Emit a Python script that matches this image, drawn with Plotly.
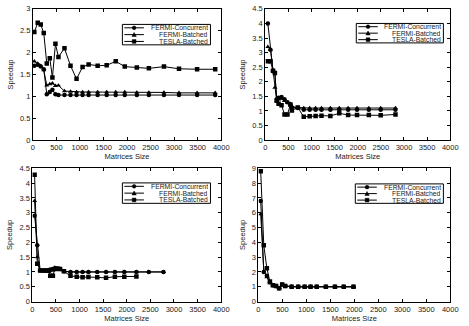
import plotly.graph_objects as go

NAMES = ["FERMI-Concurrent", "FERMI-Batched", "TESLA-Batched"]
SYMBOLS = ["circle", "triangle-up", "square"]

# Panel 1 (top-left)
x1 = [32, 104, 168, 232, 296, 360, 416, 480, 544, 672, 800, 928, 1056, 1184, 1376, 1568, 1760, 1952, 2208, 2464, 2784, 3104, 3488, 3872]
fc1 = [1.70, 1.72, 1.68, 1.62, 1.05, 1.10, 1.15, 1.05, 1.03, 1.03, 1.03, 1.03, 1.03, 1.03, 1.03, 1.03, 1.03, 1.03, 1.03, 1.03, 1.03, 1.03, 1.03, 1.03]
fb1 = [1.80, 1.75, 1.70, 1.60, 1.25, 1.28, 1.30, 1.24, 1.25, 1.12, 1.11, 1.10, 1.10, 1.10, 1.10, 1.10, 1.10, 1.10, 1.09, 1.09, 1.09, 1.08, 1.08, 1.08]
tb1 = [2.47, 2.68, 2.64, 2.45, 1.75, 1.87, 1.43, 2.20, 1.90, 2.10, 1.70, 1.40, 1.67, 1.73, 1.70, 1.71, 1.80, 1.68, 1.66, 1.64, 1.68, 1.63, 1.62, 1.62]

# Panel 2 (top-right)
x2 = [56, 112, 168, 208, 248, 288, 352, 416, 480, 544, 576, 704, 832, 960, 1088, 1216, 1408, 1600, 1792, 1984, 2240, 2496, 2816]
fc2 = [4.00, 3.10, 2.38, 2.30, 1.40, 1.45, 1.48, 1.40, 1.30, 1.20, 1.12, 1.10, 1.04, 1.04, 1.04, 1.04, 1.04, 1.04, 1.04, 1.04, 1.04, 1.04, 1.04]
fb2 = [3.20, 3.10, 2.38, 1.80, 1.35, 1.40, 1.42, 1.35, 1.28, 1.25, 1.15, 1.12, 1.10, 1.10, 1.10, 1.10, 1.10, 1.10, 1.10, 1.10, 1.10, 1.10, 1.10]
tb2 = [2.70, 2.70, 2.38, 2.30, 1.35, 1.25, 1.20, 0.88, 0.88, 1.22, 1.02, 1.12, 0.80, 0.82, 0.83, 0.84, 0.83, 0.92, 0.86, 0.86, 0.86, 0.85, 0.88]

# Panel 3 (bottom-left)
x3 = [48, 104, 166, 235, 304, 350, 380, 435, 477, 532, 587, 670, 808, 940, 1064, 1188, 1375, 1561, 1748, 1948, 2204, 2466, 2777]
fc3 = [2.90, 1.90, 1.05, 1.05, 1.05, 1.05, 1.08, 1.10, 1.12, 1.10, 1.10, 1.02, 1.00, 1.00, 1.00, 1.00, 1.00, 1.00, 1.00, 1.00, 1.00, 1.00, 1.00]
fb3 = [3.40, 1.50, 1.05, 1.03, 1.02, 1.02, 1.05, 1.05, 1.15, 1.12, 1.08, 1.02, 1.00, 1.00, 1.00, 1.00, 1.00, 1.00, 1.00, 1.00, 1.00, 1.00, 1.00]
tb3 = [4.28, 1.28, 1.05, 1.05, 1.05, 1.05, 0.87, 0.87, 1.10, 1.12, 1.10, 1.02, 0.87, 0.84, 0.82, 0.83, 0.82, 0.80, 0.84, 0.84, 0.85]

# Panel 4 (bottom-right)
x4 = [48, 112, 176, 240, 304, 368, 432, 496, 560, 693, 829, 964, 1087, 1216, 1406, 1596, 1779, 1983]
fc4 = [6.80, 2.00, 1.75, 1.30, 1.10, 1.05, 0.90, 1.15, 1.05, 1.00, 1.00, 1.00, 1.00, 1.00, 1.00, 1.00, 1.00, 1.00]
fb4 = [5.90, 2.05, 1.65, 1.25, 1.08, 1.03, 0.92, 1.12, 1.04, 1.00, 1.00, 1.00, 1.00, 1.00, 1.00, 1.00, 1.00, 1.00]
tb4 = [8.80, 3.80, 2.25, 1.35, 1.10, 1.05, 0.90, 1.15, 1.05, 1.00, 1.00, 1.00, 1.00, 1.00, 1.00, 1.00, 1.00, 1.00]

panels = [
    (x1, [fc1, fb1, tb1], 3.0, 0.5),
    (x2, [fc2, fb2, tb2], 4.5, 0.5),
    (x3, [fc3, fb3, tb3], 4.5, 0.5),
    (x4, [fc4, fb4, tb4], 9.0, 1.0),
]

W, H = 469, 326
# plot areas in pixels: (left, right, top, bottom)
areas = [(31.5, 224, 5, 140), (269, 458, 5, 140), (31, 224, 169, 306), (262, 458, 169, 306)]
# legend boxes in pixels: (left, right, top, bottom)
legend_boxes = [(123, 213, 21, 42), (362, 451, 20, 40), (123, 213, 184, 205), (361, 451, 185, 205)]

FONT = "Liberation Sans, Arial, Helvetica, sans-serif"
fig = go.Figure()
layout = dict(
    width=W, height=H, margin=dict(l=0, r=0, t=0, b=0),
    paper_bgcolor="white", plot_bgcolor="white",
    font=dict(family=FONT, size=8, color="black"),
    showlegend=False,
)

shapes = []
annotations = []


def px(xp):
    return xp / W


def py(yp):
    return 1 - yp / H


def marker_shape(sym, cx, cy, r=1.9):
    style = dict(xref="paper", yref="paper", fillcolor="black",
                 line=dict(color="black", width=0.5), layer="above")
    if sym == "circle":
        return dict(type="circle", x0=px(cx - r), x1=px(cx + r), y0=py(cy + r), y1=py(cy - r), **style)
    if sym == "square":
        return dict(type="rect", x0=px(cx - r), x1=px(cx + r), y0=py(cy + r), y1=py(cy - r), **style)
    path = f"M {px(cx - r - 0.3)} {py(cy + r)} L {px(cx + r + 0.3)} {py(cy + r)} L {px(cx)} {py(cy - r - 0.3)} Z"
    return dict(type="path", path=path, **style)


for i, (xs, series, ymax, dy) in enumerate(panels):
    n = i + 1
    xa = "x" if n == 1 else f"x{n}"
    ya = "y" if n == 1 else f"y{n}"
    for name, sym, ys in zip(NAMES, SYMBOLS, series):
        fig.add_trace(go.Scatter(
            x=xs[:len(ys)], y=ys, name=name, mode="lines+markers",
            line=dict(color="black", width=1),
            marker=dict(symbol=sym, size=4.5, color="black"),
            xaxis=xa, yaxis=ya,
        ))
    l, r, t, b = areas[i]
    axis_common = dict(
        showline=True, linecolor="black", linewidth=1, mirror="ticks",
        ticks="inside", ticklen=3, tickcolor="black", showgrid=False,
        zeroline=False, tickfont=dict(size=7.5, family=FONT, color="#222"),
    )
    layout["xaxis" if n == 1 else f"xaxis{n}"] = dict(
        domain=[l / W, r / W], range=[0, 4000], dtick=500,
        anchor=ya, title=dict(text="Matrices Size", font=dict(size=7.5, color="#222"), standoff=1),
        **axis_common,
    )
    layout["yaxis" if n == 1 else f"yaxis{n}"] = dict(
        domain=[1 - b / H, 1 - t / H], range=[0, ymax], dtick=dy,
        anchor=xa, title=dict(text="Speedup", font=dict(size=7.5, color="#222"), standoff=5),
        **axis_common,
    )

    # legend box drawn as shapes + text
    bl, br, bt, bb = legend_boxes[i]
    shapes.append(dict(type="rect", xref="paper", yref="paper",
                       x0=px(bl), x1=px(br), y0=py(bb), y1=py(bt),
                       line=dict(color="black", width=1), fillcolor="white", layer="above"))
    row_h = (bb - bt) / 3.0
    for k, (name, sym) in enumerate(zip(NAMES, SYMBOLS)):
        cy = bt + row_h * (k + 0.5)
        sx0, sx1 = bl + 2, bl + 22
        shapes.append(dict(type="line", xref="paper", yref="paper",
                           x0=px(sx0), x1=px(sx1), y0=py(cy), y1=py(cy),
                           line=dict(color="black", width=1), layer="above"))
        shapes.append(marker_shape(sym, (sx0 + sx1) / 2, cy))
        annotations.append(dict(xref="paper", yref="paper", x=px(br - 1), y=py(cy),
                                xanchor="right", yanchor="middle", text=name, showarrow=False,
                                height=6.5, valign="middle", borderpad=0,
                                font=dict(size=6.8, family=FONT, color="#222")))

layout["shapes"] = shapes
layout["annotations"] = annotations
fig.update_layout(**layout)
fig.write_html("out.html")
